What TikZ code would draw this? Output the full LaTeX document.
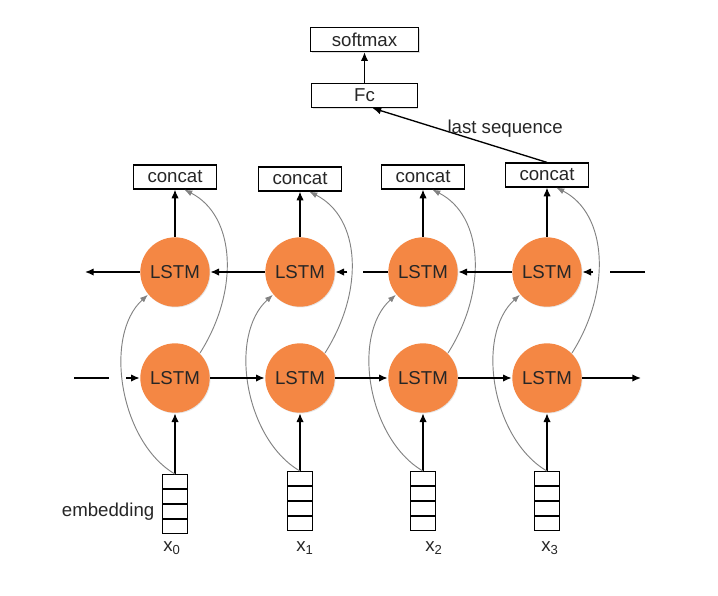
\documentclass[tikz,border=0pt]{standalone}
\usepackage{fontspec}
\setmainfont{Liberation Sans}
\usetikzlibrary{positioning,calc,arrows.meta,shadows}

\definecolor{lstmorange}{RGB}{244,135,68}
\definecolor{bypassgray}{RGB}{130,130,130}

\begin{document}
\begin{tikzpicture}[x=0.75pt, y=-0.75pt,
    -{Latex[length=6.5pt,width=5.5pt]},
    line width=1pt,
    every node/.style={font=\fontsize{14}{16}\selectfont, text=black!85},
    box/.style={draw, fill=white, line width=0.9pt,
      minimum height=18pt, inner sep=1pt,
      drop shadow={opacity=0.25, shadow xshift=0.8pt, shadow yshift=-0.8pt}},
    lstm/.style={circle, fill=lstmorange, minimum size=52pt, inner sep=0pt,
      drop shadow={opacity=0.2, shadow xshift=0.6pt, shadow yshift=-0.6pt}},
    emb/.style={draw, fill=white, line width=0.9pt,
      minimum width=18.5pt, minimum height=44pt, inner sep=0pt},
    bypass/.style={draw=bypassgray, line width=0.7pt,
      -{Latex[length=6pt,width=4.5pt]}},
  ]
  \useasboundingbox (0,0) rectangle (718,596);

  % one column per time step
  \foreach \i/\x/\cy/\ey/\th/\lx/\n in {1/175/177/504/3/172/0,
      2/300/179/501/2/305/1, 3/423/177/501/2/434/2, 4/547/175/501/2/550/3} {
    \node (t\i) [lstm] at (\x,272) {LSTM};
    \node (b\i) [lstm] at (\x,378) {LSTM};
    \node (c\i) [box, minimum width=62pt] at (\x,\cy) {concat};
    \node (e\i) [emb] at (\x,\ey) {};
    \foreach \k in {1,2,3} {
      \ifnum\k=\th \def\w{1.7pt}\else\def\w{0.9pt}\fi
      \draw [-, line width=\w]
      ($(e\i.north west)!\k/4!(e\i.south west)$) --
      ($(e\i.north east)!\k/4!(e\i.south east)$);
    }
    \node (l\i) at (\lx,548) {x\textsubscript{\n}};
    \draw (e\i) -- (b\i);
    \draw (t\i) -- (c\i);
    \draw [bypass] (e\i.north) .. controls +(-55,-32) and +(-45,41) .. (t\i.220);
    \draw [bypass] (b\i.45) .. controls +(40,-63) and +(51,26) ..
    ([xshift=7pt]c\i.south);
  }

  \node (lab) [left=2pt of e1, yshift=-6pt] {embedding};

  \node (fc) [box, minimum width=79pt] at (364.5,95.5) {Fc};
  \node (sm) [box, minimum width=81pt, above=23pt of fc] {softmax};

  \draw (fc) -- (sm);
  \draw (c4.north) --
  node [pos=0.24, above=5pt] {last sequence}
  ([xshift=6pt]fc.south);

  % forward layer
  \coordinate (bin) at (74,378);
  \coordinate (bout) at (641,378);
  \draw [-] (bin) -- ++(35,0);
  \draw ([xshift=-10pt]b1.west) -- (b1.west);
  \draw (b1) -- (b2);
  \draw (b2) -- (b3);
  \draw (b3) -- (b4);
  \draw (b4) -- (bout);

  % backward layer
  \coordinate (tin) at (645,272);
  \coordinate (tout) at (85,272);
  \draw [-] (tin) -- ++(-35,0);
  \draw ([xshift=8pt]t4.east) -- (t4.east);
  \draw (t4) -- (t3);
  \draw [-] (t3.west) -- ++(-25,0);
  \draw ([xshift=9pt]t2.east) -- (t2.east);
  \draw (t2) -- (t1);
  \draw (t1) -- (tout);
\end{tikzpicture}
\end{document}
